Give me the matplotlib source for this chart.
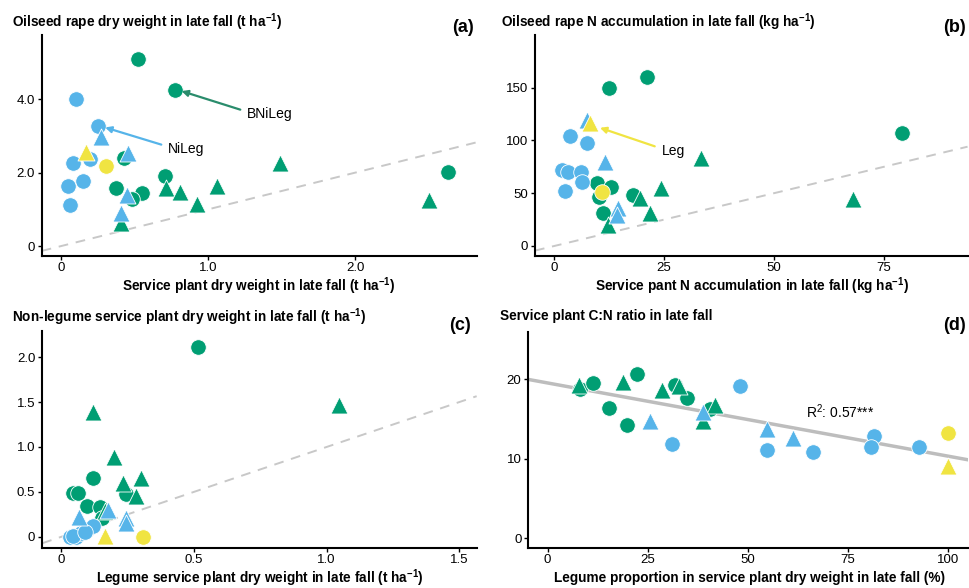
import numpy as np
import matplotlib
matplotlib.use('Agg')
import matplotlib.pyplot as plt

plt.rcParams['font.family'] = ['Liberation Sans Narrow', 'Liberation Sans', 'DejaVu Sans']
plt.rcParams['mathtext.fontset'] = 'custom'
plt.rcParams['mathtext.rm'] = 'Liberation Sans'
plt.rcParams['mathtext.bf'] = 'Liberation Sans:bold'

# mixture type of each point: B = BNiLeg, N = NiLeg, L = Leg
# trial: 1 = circle, 2 = triangle

# (a) oilseed rape dry weight vs service plant dry weight
a_x = [0.525, 0.778, 2.63, 0.71, 0.374, 0.549, 0.48, 0.43,
       1.49, 1.06, 0.717, 0.808, 0.925, 2.5, 0.406,
       0.10, 0.254, 0.084, 0.197, 0.152, 0.045, 0.061,
       0.27, 0.458, 0.451, 0.406,
       0.306, 0.17]
a_y = [5.10, 4.25, 2.01, 1.92, 1.57, 1.45, 1.27, 2.39,
       2.25, 1.64, 1.57, 1.46, 1.15, 1.25, 0.62,
       4.0, 3.27, 2.27, 2.36, 1.77, 1.64, 1.12,
       2.98, 2.53, 1.39, 0.89,
       2.18, 2.55]

# (b) oilseed rape N vs service plant N
b_x = [21.1, 12.5, 79.2, 9.8, 13.0, 10.2, 18.0, 11.1,
       33.5, 24.2, 19.5, 21.8, 68.0, 12.3,
       3.56, 7.35, 1.67, 3.2, 6.0, 6.2, 2.4,
       7.35, 11.5, 14.6, 14.2,
       10.8, 8.1]
b_y = [160, 150, 107, 59.4, 55.6, 46.7, 48.3, 31,
       83, 54.6, 45.2, 31, 44.2, 19.9,
       104.2, 97.3, 72, 70.4, 70.4, 61, 52.4,
       119.4, 79.9, 35.7, 29,
       51.4, 116.8]

# (c) non-legume vs legume service plant dry weight
c_x = [0.517, 0.119, 0.046, 0.065, 0.245, 0.099, 0.149, 0.153,
       1.047, 0.119, 0.20, 0.232, 0.30, 0.281, 0.166,
       0.035, 0.055, 0.075, 0.10, 0.122, 0.045, 0.09,
       0.178, 0.069, 0.245, 0.245,
       0.308, 0.166]
c_y = [2.11, 0.66, 0.49, 0.49, 0.48, 0.34, 0.33, 0.214,
       1.47, 1.39, 0.885, 0.595, 0.65, 0.457, 0.287,
       0.0, 0.0, 0.04, 0.08, 0.123, 0.01, 0.06,
       0.305, 0.225, 0.214, 0.16,
       0.0, 0.015]

# (d) C:N ratio vs legume proportion
d_x = [8.2, 11.4, 22.3, 15.35, 19.8, 31.7, 34.8, 40.5,
       7.9, 18.8, 28.6, 32.9, 41.9, 38.8,
       48.1, 31.1, 54.8, 66.4, 81.5, 80.8, 92.7,
       25.5, 38.8, 54.8, 61.4,
       100, 100]
d_y = [18.8, 19.5, 20.7, 16.4, 14.3, 19.26, 17.7, 16.3,
       19.26, 19.7, 18.7, 19.2, 16.8, 14.8,
       19.2, 11.9, 11.1, 10.9, 12.9, 11.5, 11.5,
       14.8, 15.9, 13.7, 12.6,
       13.3, 9.1]
d_fit_intercept = 19.55
d_fit_slope = -0.092

mix_ac = ['B'] * 8 + ['B'] * 7 + ['N'] * 7 + ['N'] * 4 + ['L', 'L']
trial_ac = [1] * 8 + [2] * 7 + [1] * 7 + [2] * 4 + [1, 2]
mix_bd = ['B'] * 8 + ['B'] * 6 + ['N'] * 7 + ['N'] * 4 + ['L', 'L']
trial_bd = [1] * 8 + [2] * 6 + [1] * 7 + [2] * 4 + [1, 2]

colors = {'B': '#009E73', 'N': '#56B4E9', 'L': '#F0E442'}
markers = {1: 'o', 2: '^'}
sizes = {1: 125, 2: 150}


def draw_points(ax, x, y, mix, trial):
    x = np.array(x)
    y = np.array(y)
    mix = np.array(mix)
    trial = np.array(trial)
    for m in ['B', 'N', 'L']:
        for t in [1, 2]:
            sel = (mix == m) & (trial == t)
            ax.scatter(x[sel], y[sel], s=sizes[t], marker=markers[t], c=colors[m],
                       edgecolors='white', linewidths=0.6, zorder=3)


def style_axes(ax, xlim, ylim, xticks, xlabels, yticks, ylabels):
    ax.set_xlim(xlim)
    ax.set_ylim(ylim)
    ax.set_xticks(xticks)
    ax.set_xticklabels(xlabels)
    ax.set_yticks(yticks)
    ax.set_yticklabels(ylabels)
    for s in ['top', 'right']:
        ax.spines[s].set_visible(False)
    for s in ['left', 'bottom']:
        ax.spines[s].set_linewidth(1.5)
    ax.tick_params(length=3, width=1, labelsize=9.5, colors='black', pad=2)
    ax.tick_params(axis='x', pad=1.5)


fig = plt.figure(figsize=(9.7, 5.88), dpi=100)
ax_a = fig.add_axes([0.043, 0.5646, 0.449, 0.376])
ax_b = fig.add_axes([0.5515, 0.5646, 0.446, 0.376])
ax_c = fig.add_axes([0.0436, 0.0685, 0.4478, 0.3686])
ax_d = fig.add_axes([0.5447, 0.0685, 0.4533, 0.3675])

# 1:1 lines
for ax in [ax_a, ax_b, ax_c]:
    ax.axline((0, 0), slope=1, color='#c8c8c8', lw=1.4, ls=(0, (5, 4)), zorder=1)

ax_d.axline((0, d_fit_intercept), slope=d_fit_slope, color='#bdbdbd', lw=2.5, zorder=1)

draw_points(ax_a, a_x, a_y, mix_ac, trial_ac)
draw_points(ax_b, b_x, b_y, mix_bd, trial_bd)
draw_points(ax_c, c_x, c_y, mix_ac, trial_ac)
draw_points(ax_d, d_x, d_y, mix_bd, trial_bd)

style_axes(ax_a, (-0.131, 2.83), (-0.27, 5.75), [0, 1, 2], ['0', '1.0', '2.0'],
           [0, 2, 4], ['0', '2.0', '4.0'])
style_axes(ax_b, (-4.4, 94.1), (-9.5, 200), [0, 25, 50, 75], ['0', '25', '50', '75'],
           [0, 50, 100, 150], ['0', '50', '100', '150'])
style_axes(ax_c, (-0.07, 1.565), (-0.12, 2.29), [0, 0.5, 1.0, 1.5], ['0', '0.5', '1.0', '1.5'],
           [0, 0.5, 1.0, 1.5, 2.0], ['0', '0.5', '1.0', '1.5', '2.0'])
style_axes(ax_d, (-4.8, 105), (-1.16, 26), [0, 25, 50, 75, 100], ['0', '25', '50', '75', '100'],
           [0, 10, 20], ['0', '10', '20'])

# annotations
afs = 10
ax_a.annotate('BNiLeg', xy=(0.82, 4.22), xytext=(1.265, 3.6), fontsize=afs,
              ha='left', va='center',
              arrowprops=dict(arrowstyle='-|>', color='#2a8c6c', lw=1.6, mutation_scale=9,
                              relpos=(0, 0.65), shrinkA=3, shrinkB=0))
ax_a.annotate('NiLeg', xy=(0.30, 3.23), xytext=(0.728, 2.65), fontsize=afs,
              ha='left', va='center',
              arrowprops=dict(arrowstyle='-|>', color='#56B4E9', lw=1.6, mutation_scale=9,
                              relpos=(0, 0.65), shrinkA=3, shrinkB=0))
ax_b.annotate('Leg', xy=(10.4, 112), xytext=(24.4, 90.3), fontsize=afs,
              ha='left', va='center',
              arrowprops=dict(arrowstyle='-|>', color='#F0E442', lw=1.6, mutation_scale=9,
                              relpos=(0, 0.65), shrinkA=3, shrinkB=0))
ax_d.text(64.5, 15.9, r'R$^2$: 0.57***', fontsize=afs, ha='left', va='center')

# titles, panel letters and x labels
tfs = 9.8
fig.text(12 / 970, 1 - 22 / 588, r'Oilseed rape dry weight in late fall (t ha$\mathbf{^{-1}}$)',
         fontsize=tfs, fontweight='bold', ha='left', va='center')
fig.text(501 / 970, 1 - 22 / 588, r'Oilseed rape N accumulation in late fall (kg ha$\mathbf{^{-1}}$)',
         fontsize=tfs, fontweight='bold', ha='left', va='center')
fig.text(12 / 970, 1 - 317 / 588, r'Non-legume service plant dry weight in late fall (t ha$\mathbf{^{-1}}$)',
         fontsize=tfs, fontweight='bold', ha='left', va='center')
fig.text(500 / 970, 1 - 316 / 588, 'Service plant C:N ratio in late fall',
         fontsize=tfs, fontweight='bold', ha='left', va='center')

for label, px, py in [('(a)', 463, 28), ('(b)', 955, 27), ('(c)', 460, 325), ('(d)', 955, 325)]:
    fig.text(px / 970, 1 - py / 588, label, fontsize=13, fontweight='bold', ha='center', va='center')

fig.text(259 / 970, 1 - 286 / 588, r'Service plant dry weight in late fall (t ha$\mathbf{^{-1}}$)',
         fontsize=tfs, fontweight='bold', ha='center', va='center')
fig.text(752 / 970, 1 - 286 / 588, r'Service pant N accumulation in late fall (kg ha$\mathbf{^{-1}}$)',
         fontsize=tfs, fontweight='bold', ha='center', va='center')
fig.text(259.5 / 970, 1 - 578 / 588, r'Legume service plant dry weight in late fall (t ha$\mathbf{^{-1}}$)',
         fontsize=tfs, fontweight='bold', ha='center', va='center')
fig.text(749 / 970, 1 - 578 / 588, 'Legume proportion in service plant dry weight in late fall (%)',
         fontsize=tfs, fontweight='bold', ha='center', va='center')

fig.savefig('out.png', dpi=100)
